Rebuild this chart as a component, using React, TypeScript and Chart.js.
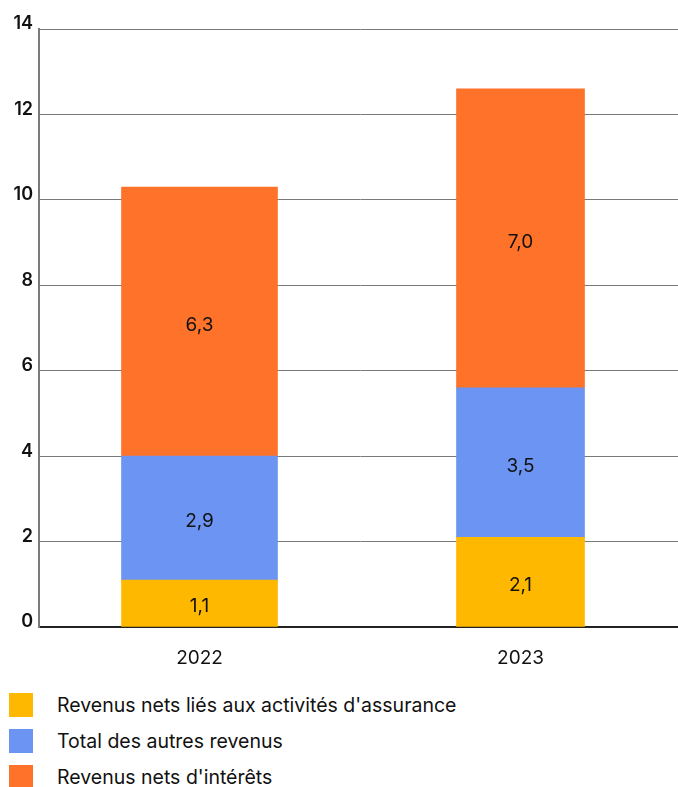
import React, { useEffect, useRef } from "react";
import { Chart, registerables } from "chart.js";

Chart.register(...registerables);

const categories = ["2022", "2023"];
const assurance = [1.1, 2.1];
const autres = [2.9, 3.5];
const interets = [6.3, 7.0];
const seriesNames = [
  "Revenus nets liés aux activités d'assurance",
  "Total des autres revenus",
  "Revenus nets d'intérêts",
];
const colors = ["#FFB800", "#6C94F2", "#FF7229"];
const yTicks = [0, 2, 4, 6, 8, 10, 12, 14];
const FONT = "Inter, 'Liberation Sans', Arial, sans-serif";

const fmt = (v: number) => v.toFixed(1).replace(".", ",");

const labelPlugin = {
  id: "segLabels",
  afterDatasetsDraw(chart: any) {
    const ctx = chart.ctx;
    ctx.save();
    ctx.font = `400 19px ${FONT}`;
    ctx.fillStyle = "#111";
    ctx.textAlign = "center";
    ctx.textBaseline = "middle";
    chart.data.datasets.forEach((ds: any, di: number) => {
      const meta = chart.getDatasetMeta(di);
      meta.data.forEach((el: any, i: number) => {
        const v = ds.data[i];
        if (v === null || v === undefined) return;
        const p = el.getProps(["x", "y", "base"], true);
        ctx.fillText(fmt(v), p.x, (p.y + p.base) / 2 + 3.5);
      });
    });
    ctx.restore();
  },
};

export default function App() {
  const ref = useRef<HTMLCanvasElement>(null);
  useEffect(() => {
    if (!ref.current) return;
    const series = [assurance, autres, interets];
    const thickness = [156, 128];
    const datasets: any[] = [];
    categories.forEach((_, ci) => {
      series.forEach((s, si) => {
        datasets.push({
          label: seriesNames[si],
          data: categories.map((__, k) => (k === ci ? s[k] : null)),
          backgroundColor: colors[si],
          borderWidth: 0,
          barThickness: thickness[ci],
          stack: "all",
        });
      });
    });
    const chart = new Chart(ref.current, {
      type: "bar",
      data: { labels: categories, datasets },
      options: {
        animation: false,
        responsive: false,
        devicePixelRatio: 1,
        layout: { padding: { top: 29, right: 0, left: 0, bottom: 0 } },
        plugins: { legend: { display: false }, tooltip: { enabled: false } },
        scales: {
          x: {
            stacked: true,
            grid: { display: false },
            border: { display: true, color: "#222", width: 2 },
            ticks: {
              color: "#111",
              font: { family: FONT, size: 19, weight: 400 },
              padding: 12,
            },
            afterFit: (s: any) => {
              s.height = 53;
            },
          },
          y: {
            stacked: true,
            min: 0,
            max: 14,
            afterBuildTicks: (s: any) => {
              s.ticks = yTicks.map((v) => ({ value: v }));
            },
            grid: { color: "#7a7a7a", lineWidth: 1, drawTicks: false },
            border: { display: true, color: "#7a7a7a", width: 2 },
            ticks: {
              color: "#111",
              font: { family: FONT, size: 18, weight: 600 },
              padding: 6,
              labelOffset: -5,
              callback: (v: any) => String(v),
            },
            afterFit: (s: any) => {
              s.width = 39;
            },
          },
        },
      },
      plugins: [labelPlugin],
    });
    return () => chart.destroy();
  }, []);

  return (
    <div style={{ position: "absolute", left: 0, top: 0, width: 678, height: 787, background: "#fff", overflow: "hidden", fontFamily: FONT }}>
      <canvas ref={ref} width={681} height={680} style={{ position: "absolute", left: 0, top: 0 }} />
      {seriesNames.map((n, i) => (
        <div key={n} style={{ position: "absolute", left: 9, top: 693 + i * 36, height: 24, display: "flex", alignItems: "center" }}>
          <div style={{ width: 24, height: 24, background: colors[i], flex: "none" }} />
          <div style={{ marginLeft: 24, fontSize: 19.5, color: "#111", whiteSpace: "nowrap", lineHeight: "24px" }}>{n}</div>
        </div>
      ))}
    </div>
  );
}
